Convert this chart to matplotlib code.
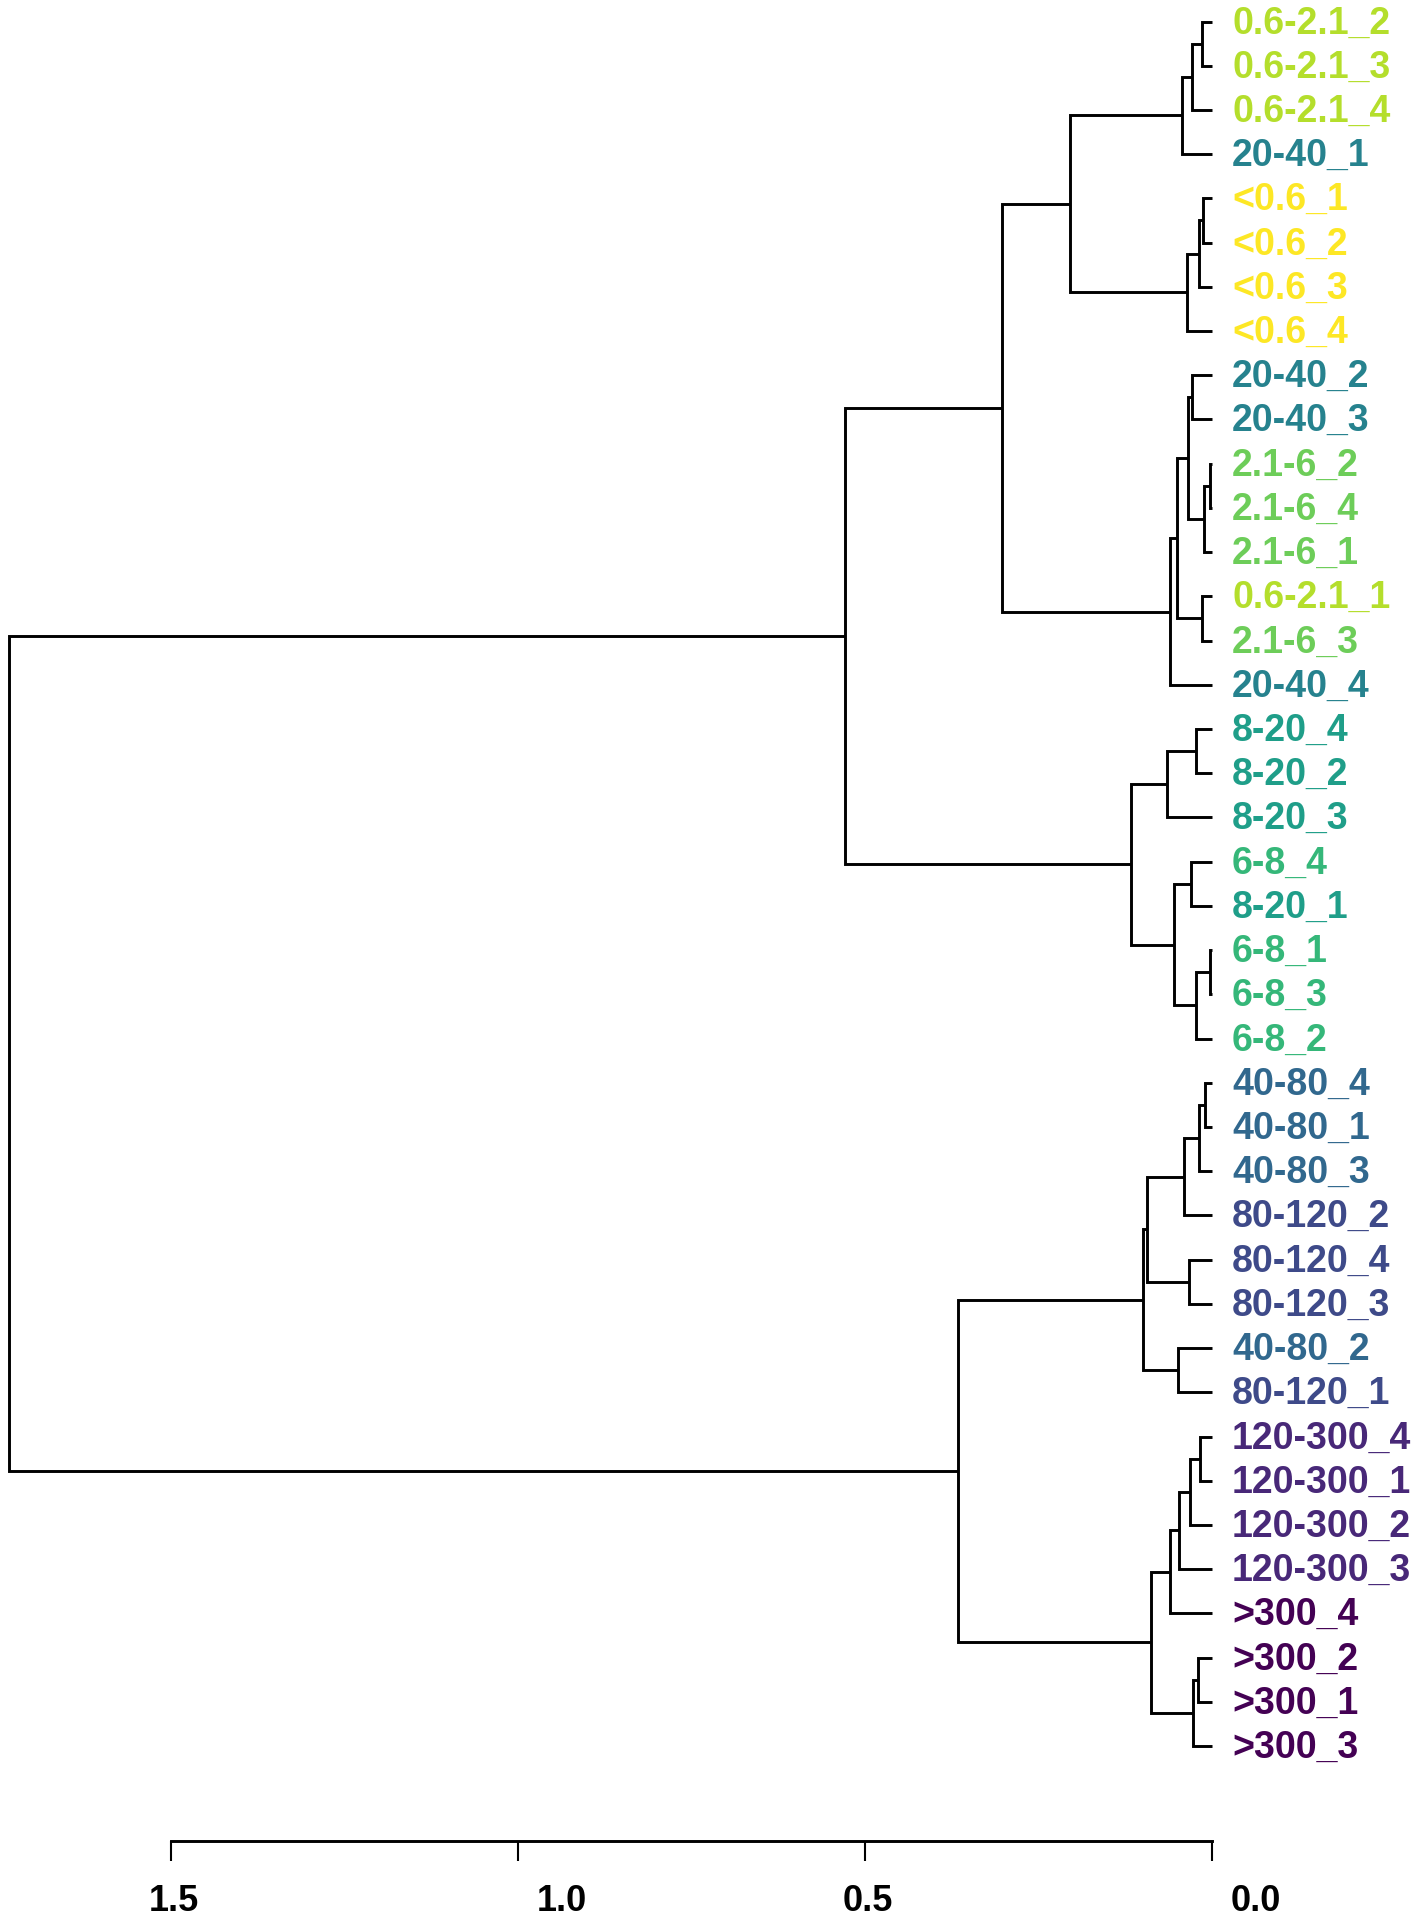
import matplotlib
matplotlib.use("Agg")
import matplotlib.pyplot as plt
from matplotlib.transforms import ScaledTranslation

# leaves, top to bottom
leaves = ["0.6-2.1_2", "0.6-2.1_3", "0.6-2.1_4", "20-40_1",
          "<0.6_1", "<0.6_2", "<0.6_3", "<0.6_4",
          "20-40_2", "20-40_3", "2.1-6_2", "2.1-6_4", "2.1-6_1",
          "0.6-2.1_1", "2.1-6_3", "20-40_4",
          "8-20_4", "8-20_2", "8-20_3", "6-8_4", "8-20_1",
          "6-8_1", "6-8_3", "6-8_2",
          "40-80_4", "40-80_1", "40-80_3", "80-120_2",
          "80-120_4", "80-120_3", "40-80_2", "80-120_1",
          "120-300_4", "120-300_1", "120-300_2", "120-300_3",
          ">300_4", ">300_2", ">300_1", ">300_3"]

groups = [">300", "120-300", "80-120", "40-80", "20-40",
          "8-20", "6-8", "2.1-6", "0.6-2.1", "<0.6"]
group_colors = ["#440154", "#482878", "#3E4A89", "#31688E", "#26828E",
                "#1F9E89", "#35B779", "#6DCD59", "#B4DE2C", "#FDE725"]

# merges like a linkage matrix: (child a, child b, height); new ids start at 40
merges = [
    (0, 1, 0.015), (40, 2, 0.029), (41, 3, 0.043),
    (4, 5, 0.013), (43, 6, 0.019), (44, 7, 0.036),
    (42, 45, 0.204),
    (8, 9, 0.029), (10, 11, 0.0024), (48, 12, 0.0115), (47, 49, 0.035),
    (13, 14, 0.0144), (50, 51, 0.051), (52, 15, 0.060),
    (46, 53, 0.303),
    (16, 17, 0.023), (55, 18, 0.065), (19, 20, 0.031),
    (21, 22, 0.0024), (58, 23, 0.0226), (57, 59, 0.055), (56, 60, 0.116),
    (54, 61, 0.529),
    (24, 25, 0.0106), (63, 26, 0.019), (64, 27, 0.041), (28, 29, 0.033),
    (65, 66, 0.093), (30, 31, 0.049), (67, 68, 0.100),
    (32, 33, 0.018), (70, 34, 0.032), (71, 35, 0.048), (72, 36, 0.060),
    (37, 38, 0.020), (74, 39, 0.028), (73, 75, 0.088),
    (69, 76, 0.366),
    (62, 77, 1.733),
]

ticks = [1.5, 1.0, 0.5, 0.0]
tick_labels = ["1.5", "1.0", "0.5", "0.0"]
label_shift = [3, 44, 3, 44]  # px, labels sit a bit right of the ticks

fig = plt.figure(figsize=(14.18, 19.24), dpi=100)
ax = fig.add_axes([0, 82.3 / 1924, 1, 1841.7 / 1924])

n = len(leaves)
pos = {i: (float(i), 0.0) for i in range(n)}  # id -> (y, height)
for k, (a, b, h) in enumerate(merges):
    ya, ha = pos[a]
    yb, hb = pos[b]
    ax.plot([ha, h, h, hb], [ya, ya, yb, yb], color="black", lw=2.1,
            solid_joinstyle="miter", solid_capstyle="butt")
    pos[n + k] = ((ya + yb) / 2, h)

for i, name in enumerate(leaves):
    grp = name.rsplit("_", 1)[0]
    col = group_colors[groups.index(grp)]
    ax.annotate(name, (0, i), xytext=(14.4, -7.8), textcoords="offset points",
                ha="left", va="baseline", fontsize=27, fontweight="bold",
                family="Liberation Sans", color=col)

ax.set_xlim(1.7459, -0.2967)
ax.set_ylim(41.14, -0.509)

for s in ["top", "left", "right"]:
    ax.spines[s].set_visible(False)
ax.spines["bottom"].set_bounds(0, 1.5)
ax.spines["bottom"].set_linewidth(2.1)
ax.set_yticks([])
ax.set_xticks(ticks)
ax.set_xticklabels(tick_labels)
ax.tick_params(axis="x", length=14.4, width=1.5, pad=16, labelsize=26)
for lbl, dx in zip(ax.get_xticklabels(), label_shift):
    lbl.set_fontweight("bold")
    lbl.set_family("Liberation Sans")
    lbl.set_transform(lbl.get_transform() + ScaledTranslation(dx / 100, 0, fig.dpi_scale_trans))

fig.savefig("out.png", dpi=100, facecolor="white")
